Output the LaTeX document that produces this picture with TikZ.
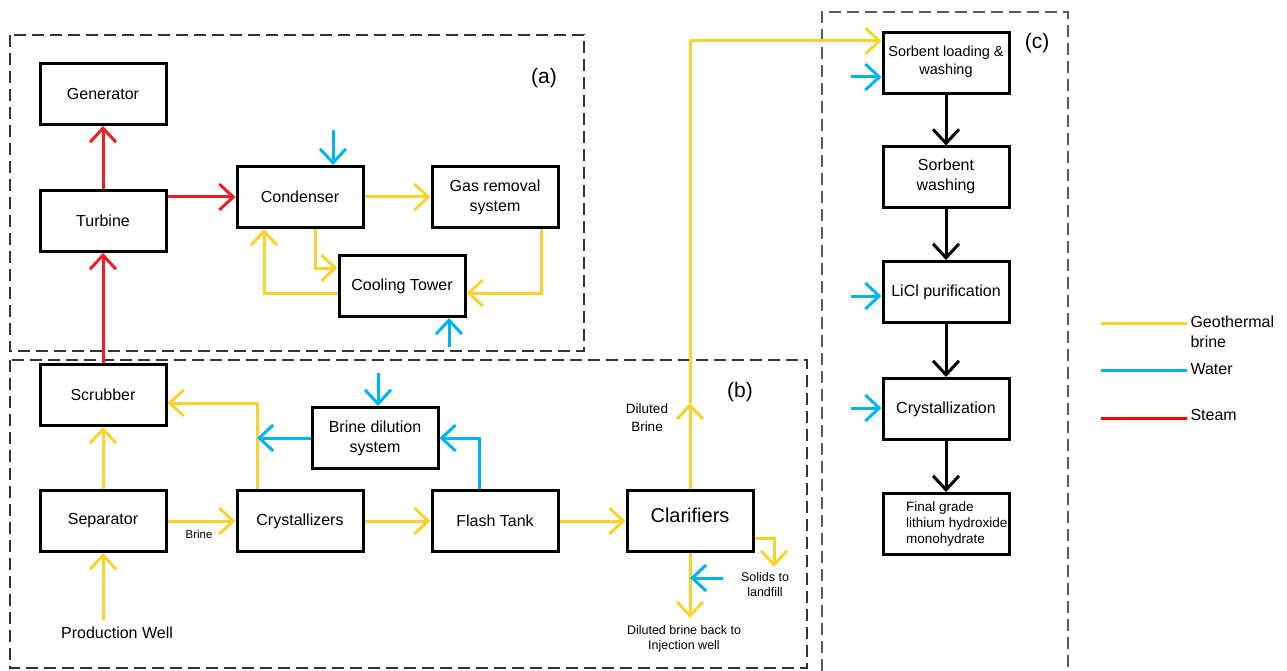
\documentclass[tikz,border=0pt]{standalone}
\usepackage{fontspec}
\setmainfont{Liberation Sans}
\usetikzlibrary{arrows.meta}
\definecolor{brinecol}{RGB}{250,210,45}
\definecolor{watercol}{RGB}{0,180,240}
\definecolor{steamcol}{RGB}{235,30,40}
\tikzset{
  unit/.style={draw, line width=3pt, minimum width=126pt, minimum height=61pt,
    inner sep=0pt, align=center, font=\fontsize{16}{20}\selectfont},
  tip/.style={-{Straight Barb[length=14pt,width=26pt]}},
  brine/.style={draw=brinecol, line width=3pt},
  water/.style={draw=watercol, line width=3pt},
  steam/.style={draw=steamcol, line width=3pt},
  flow/.style={draw=black, line width=3pt},
  section/.style={draw=black!80, line width=1.8pt, dash pattern=on 12pt off 6pt},
  tag/.style={font=\fontsize{21}{24}\selectfont},
  note/.style={align=center, font=\fontsize{12.5}{15}\selectfont},
}
\begin{document}
\begin{tikzpicture}[x=1pt,y=-1pt]
\useasboundingbox (0,0) rectangle (1287,671);
% dashed sections
\draw [section] (10,35) rectangle (584,351);
\draw [section] (10,360) rectangle (807,668);
\draw [section, draw=black!65, line width=1.4pt] (822,671) -- (822,12) -- (1068,12) -- (1068,671);
\node [tag] (taga) at (544,78) {(a)};
\node [tag] (tagb) at (740,392) {(b)};
\node [tag] (tagc) at (1037,43) {(c)};
% (a) power plant
\node [unit] (gen) at (103,94) {Generator};
\node [unit] (turb) at (103,221) {Turbine};
\node [unit] (cond) at (300,197) {Condenser};
\node [unit] (gasrem) at (495,197) {Gas removal\\system};
\node [unit] (cool) at (402,286) {Cooling Tower};
% (b) brine handling
\node [unit] (scrub) at (103,395) {Scrubber};
\node [unit] (sep) at (103,521) {Separator};
\node [unit] (cryst) at (300,521) {Crystallizers};
\node [unit] (flash) at (495,521) {Flash Tank};
\node [unit, font=\fontsize{20}{24}\selectfont, text depth=12pt] (clar) at (690,521) {Clarifiers};
\node [unit] (dil) at (375,438) {Brine dilution\\system};
\node [font=\fontsize{16}{20}\selectfont] (well) at (117,633) {Production Well};
% (c) lithium recovery
\node [unit, font=\fontsize{14.5}{18}\selectfont, text depth=6pt] (sorbload) at (946,63.5) {Sorbent loading \&\\washing};
\node [unit, text depth=6pt] (sorbwash) at (946,177.5) {Sorbent\\washing};
\node [unit] (licl) at (946,292) {LiCl purification};
\node [unit] (crystz) at (946,409) {Crystallization};
\node [unit, font=\fontsize{13.5}{16}\selectfont] (final) at (946,524)
  {\makebox[80pt][l]{\begin{tabular}{@{}l@{}}Final grade\\lithium hydroxide\\monohydrate\end{tabular}}};
% steam
\draw [steam, tip] (turb.north) -- (gen.south);
\draw [steam, tip] (turb.east |- cond.west) -- (cond.west);
\draw [steam, tip] (scrub.north) -- (turb.south);
% cooling loop
\coordinate (cc1) at (315,268);
\coordinate (cc2) at (264,293);
\coordinate (gc) at (541,293);
\draw [brine, tip] (cond.east) -- (gasrem.west);
\draw [brine, tip] (cond.south -| cc1) -- (cc1) -- (cc1 -| cool.west);
\draw [brine, tip] (cool.west |- cc2) -- (cc2) -- (cc2 |- cond.south);
\draw [brine, tip] (gasrem.south -| gc) -- (gc) -- (gc -| cool.east);
\coordinate (wcond) at (333,130);
\coordinate (wcool) at (449,347);
\draw [water, tip] (wcond) -- (wcond |- cond.north);
\draw [water, tip] (wcool) -- (wcool |- cool.south);
% brine train
\coordinate (wellout) at (103,620);
\coordinate (cxtop) at (257,403);
\coordinate (fxw) at (479,438);
\coordinate (wdil) at (378,373);
\draw [brine, tip] (wellout) -- (sep.south);
\draw [brine, tip] (sep.north) -- (scrub.south);
\draw [brine, tip] (sep.east) -- (cryst.west);
\node [font=\fontsize{11.5}{14}\selectfont] (brinelbl) at (199,534) {Brine};
\draw [brine, tip] (cryst.north -| cxtop) -- (cxtop) -- (cxtop -| scrub.east);
\draw [brine, tip] (cryst.east) -- (flash.west);
\draw [brine, tip] (flash.east) -- (clar.west);
\draw [water, tip] (dil.west) -- (dil.west -| cxtop);
\draw [water, tip] (flash.north -| fxw) -- (fxw) -- (dil.east);
\draw [water, tip] (wdil) -- (wdil |- dil.north);
% clarifier outlets
\coordinate (dbmid) at (690,403);
\coordinate (sl) at (690,41);
\coordinate (sol) at (774,538);
\coordinate (solend) at (774,567);
\coordinate (inj) at (690,618);
\coordinate (winj) at (723,578);
\draw [brine] (dbmid) -- (sl);
\draw [brine, tip] (clar.north) -- (dbmid);
\draw [brine, tip] (sl) -- (sl -| sorbload.west);
\node [note, font=\fontsize{13.5}{18}\selectfont] (dblbl) at (647,418) {Diluted\\Brine};
\draw [brine, tip] (clar.east |- sol) -- (sol) -- (solend);
\node [note] (sollbl) at (765,585) {Solids to\\landfill};
\draw [brine, tip] (clar.south) -- (inj);
\node [note] (injlbl) at (684,639) {Diluted brine back to\\Injection well};
\draw [water, tip] (winj) -- (winj -| clar.south);
% lithium steps
\coordinate (wsl) at (851,77);
\coordinate (wlicl) at (851,296);
\coordinate (wcrz) at (851,408);
\draw [water, tip] (wsl) -- (wsl -| sorbload.west);
\draw [water, tip] (wlicl) -- (wlicl -| licl.west);
\draw [water, tip] (wcrz) -- (wcrz -| crystz.west);
\draw [flow, tip] (sorbload.south) -- (sorbwash.north);
\draw [flow, tip] (sorbwash.south) -- (licl.north);
\draw [flow, tip] (licl.south) -- (crystz.north);
\draw [flow, tip] (crystz.south) -- (final.north);
% legend
\coordinate (lg1) at (1101,323);
\coordinate (lg2) at (1101,370);
\coordinate (lg3) at (1101,418);
\draw [brine] (lg1) -- ++(86,0);
\draw [water] (lg2) -- ++(86,0);
\draw [steam, draw=red] (lg3) -- ++(86,0);
\node [anchor=west, align=left, font=\fontsize{16}{20}\selectfont] (lgeo) at (1187,332) {Geothermal\\brine};
\node [anchor=west, font=\fontsize{16}{20}\selectfont] (lwat) at (1187,369) {Water};
\node [anchor=west, font=\fontsize{16}{20}\selectfont] (lstm) at (1187,415) {Steam};
\end{tikzpicture}
\end{document}
